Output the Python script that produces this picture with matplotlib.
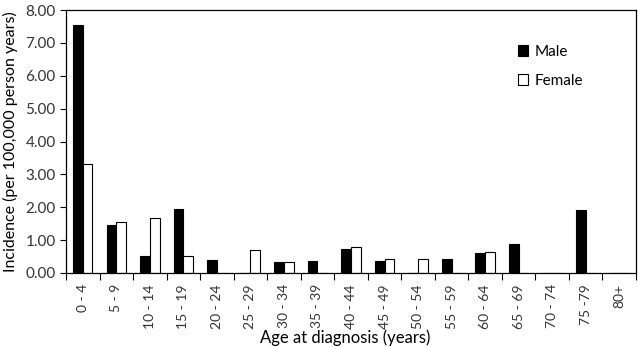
import matplotlib
matplotlib.use("Agg")
import matplotlib.pyplot as plt
import numpy as np

categories = ["0 - 4", "5 - 9", "10 - 14", "15 - 19", "20 - 24", "25 - 29", "30 - 34",
              "35 - 39", "40 - 44", "45 - 49", "50 - 54", "55 - 59", "60 - 64",
              "65 - 69", "70 - 74", "75 -79", "80+"]
male = [7.55, 1.45, 0.52, 1.95, 0.41, 0.0, 0.32, 0.35, 0.73, 0.38, 0.0, 0.44, 0.60, 0.89, 0.0, 1.93, 0.0]
female = [3.32, 1.55, 1.67, 0.52, 0.0, 0.70, 0.33, 0.0, 0.79, 0.43, 0.42, 0.0, 0.63, 0.0, 0.0, 0.0, 0.0]
yticks = [0, 1, 2, 3, 4, 5, 6, 7, 8]

plt.rcParams['font.family'] = ['Lato', 'DejaVu Sans']
fig = plt.figure(figsize=(6.38, 3.47), dpi=100)
ax = fig.add_axes([66/638, 1 - 273/347, (636-66)/638, (273-10)/347])

x = np.arange(len(categories))
w = 0.29
ax.bar(x - w/2, male, width=w, color='black', edgecolor='black', linewidth=0.8, label='Male')
ax.bar(x + w/2, female, width=w, color='white', edgecolor='black', linewidth=0.8, label='Female')

ax.set_xlim(-0.5, len(categories) - 0.5)
ax.set_ylim(0, 8)
ax.set_yticks(yticks)
ax.set_yticklabels([f"{v:.2f}" for v in yticks], fontsize=11, color='#333333')
ax.set_xticks(np.arange(len(categories) + 1) - 0.5)
ax.set_xticklabels([])
ax.set_xticks(x, minor=True)
ax.set_xticklabels(categories, minor=True, rotation=90, fontsize=10, color='#333333')
ax.tick_params(axis='x', which='minor', length=0, pad=8)
ax.tick_params(axis='x', which='major', length=5, direction='out')
ax.tick_params(axis='y', length=4, direction='out')
for s in ax.spines.values():
    s.set_linewidth(0.9)

ax.set_ylabel("Incidence (per 100,000 person years)", fontsize=11.5, labelpad=5)
ax.set_xlabel("Age at diagnosis (years)", fontsize=12)
ax.xaxis.set_label_coords(0.49, -0.215)

ax.legend(loc='upper left', bbox_to_anchor=(0.768, 0.92), frameon=False, fontsize=11,
          handlelength=0.7, handleheight=0.7, handletextpad=0.4, labelspacing=1.0)

fig.savefig("out.png", dpi=100)
